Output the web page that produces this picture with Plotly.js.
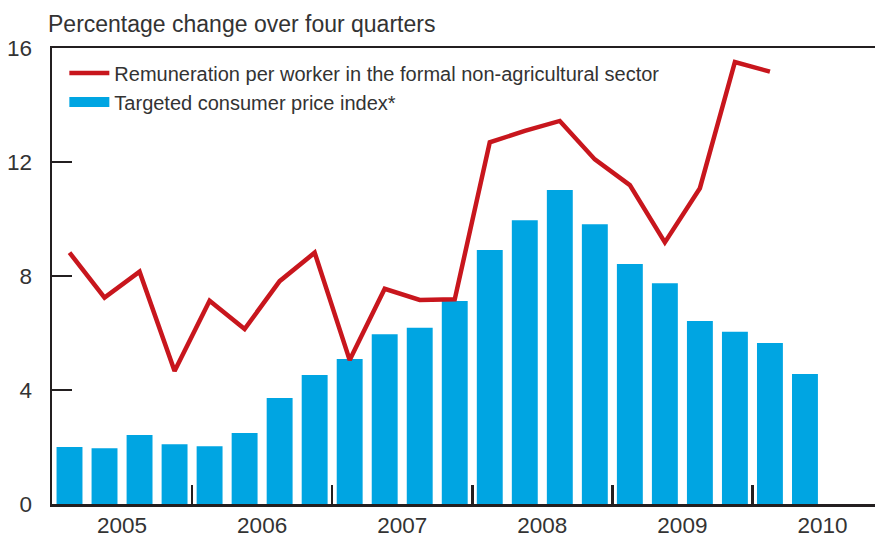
<!DOCTYPE html>
<html>
<head>
<meta charset="utf-8">
<script src="https://cdn.plot.ly/plotly-3.0.1.min.js"></script>
<style>html,body{margin:0;padding:0;background:#fff;}#chart{width:875px;height:537px;}</style>
</head>
<body>
<div id="chart"></div>
<script>
// Quarters 2005Q1 .. 2010Q2 (index 0..21)
const quarters = ["2005Q1","2005Q2","2005Q3","2005Q4","2006Q1","2006Q2","2006Q3","2006Q4",
  "2007Q1","2007Q2","2007Q3","2007Q4","2008Q1","2008Q2","2008Q3","2008Q4",
  "2009Q1","2009Q2","2009Q3","2009Q4","2010Q1","2010Q2"];
const cpiValues = [2.0,1.96,2.42,2.1,2.03,2.49,3.72,4.53,5.09,5.96,6.18,7.12,
  8.91,9.96,11.02,9.82,8.42,7.75,6.42,6.04,5.65,4.56];
const remunerationValues = [8.82,7.24,8.15,4.67,7.13,6.14,7.82,8.82,5.05,7.55,7.16,7.18,
  12.69,13.09,13.44,12.09,11.19,9.18,11.08,15.51,15.17];
const yearLabels = ["2005","2006","2007","2008","2009","2010"];
const yTicks = [0,4,8,12,16];

const xIdx = quarters.map((q,i)=>i);
const remX = remunerationValues.map((v,i)=>i);
const yearCenters = yearLabels.map((y,i)=>i*4+1.5);
const yearBounds = yearLabels.slice(0,-1).map((y,i)=>i*4+3.5);

const RED = '#c8161d', BLUE = '#00a5e2', AX = '#231f20', TXT = '#333333';
const FONT = 'Liberation Sans, Arial, sans-serif';

const traces = [
  {type:'scatter', mode:'lines', x: remX, y: remunerationValues,
   line:{color:RED, width:4.5}, name:'Remuneration per worker in the formal non-agricultural sector',
   hoverinfo:'skip'},
  {type:'scatter', mode:'lines', x:[null], y:[null], line:{color:BLUE, width:12},
   name:'Targeted consumer price index*', hoverinfo:'skip'},
  {type:'bar', x: xIdx, y: cpiValues, marker:{color:BLUE}, showlegend:false, hoverinfo:'skip'},
  {type:'scatter', mode:'lines', x:[null], y:[null], xaxis:'x2', showlegend:false, hoverinfo:'skip'}
];

const layout = {
  width:875, height:537,
  margin:{l:52, r:0, t:48, b:33},
  paper_bgcolor:'#fff', plot_bgcolor:'#fff',
  font:{family:FONT, color:TXT, size:22},
  bargap:0.26,
  showlegend:true,
  legend:{x:0.015, xanchor:'left', y:0.988, yanchor:'top', bgcolor:'rgba(0,0,0,0)',
          font:{family:FONT, size:20, color:TXT}, itemwidth:40, tracegroupgap:0},
  title:{text:'Percentage change over four quarters', xref:'container', yref:'container',
         x:48/875, xanchor:'left', y:1-24/537, yanchor:'middle',
         font:{family:FONT, size:23, color:TXT}},
  xaxis:{range:[-0.5,23.0], showline:true, mirror:true, linecolor:AX, linewidth:2.5,
         tickmode:'array', tickvals:yearBounds, ticks:'inside', ticklen:19, tickwidth:2.5,
         tickcolor:AX, showticklabels:false, showgrid:false, zeroline:false, fixedrange:true},
  xaxis2:{overlaying:'x', matches:'x', anchor:'y', side:'bottom', tickmode:'array',
          tickvals:yearCenters, ticktext:yearLabels, ticks:'', showline:false,
          showgrid:false, zeroline:false, ticklabelstandoff:5,
          tickfont:{family:FONT, size:22.5, color:TXT}},
  yaxis:{range:[0,16], tickmode:'array', tickvals:yTicks, ticks:'inside', ticklen:20,
         tickwidth:2.5, tickcolor:AX, showline:true, linecolor:AX, linewidth:2.5,
         showgrid:false, zeroline:false, ticklabelstandoff:13,
         tickfont:{family:FONT, size:22.5, color:TXT}}
};

Plotly.newPlot('chart', traces, layout, {displayModeBar:false, staticPlot:true});
</script>
</body>
</html>
